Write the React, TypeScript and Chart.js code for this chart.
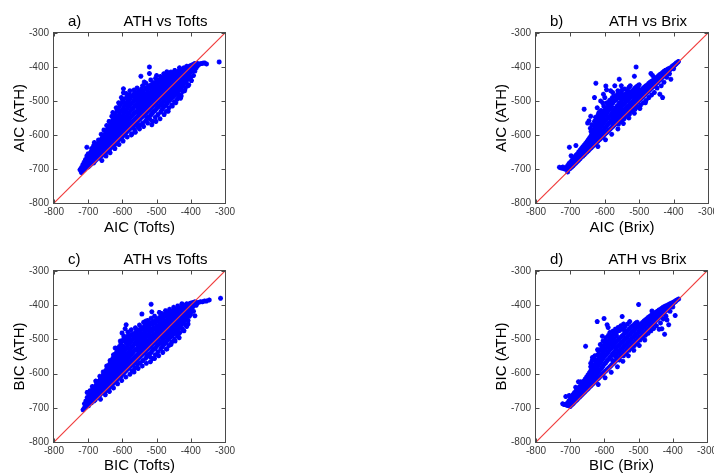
import React, { useEffect, useRef } from "react";
import { Chart, registerables } from "chart.js";
Chart.register(...registerables);

const axisMin = -800;
const axisMax = -300;
const axisStep = 100;
const diagonal = [[-800, -800], [-300, -300]];

const panelTags = ["a)", "b)", "c)", "d)"];
const panelTitles = ["ATH vs Tofts", "ATH vs Brix", "ATH vs Tofts", "ATH vs Brix"];
const xLabels = ["AIC (Tofts)", "AIC (Brix)", "BIC (Tofts)", "BIC (Brix)"];
const yLabels = ["AIC (ATH)", "AIC (ATH)", "BIC (ATH)", "BIC (ATH)"];

// Each row: [x, y1, y2, ...] = points read at that x value.
// a) AIC: Tofts (x) vs ATH (y)
const panelA = [
  [-724,-702],[-720,-710,-696],[-716,-700,-688,-706],[-712,-694,-680,-703],[-708,-698,-672,-688],
  [-704,-690,-662,-678,-636],[-700,-694,-670,-682,-655],[-696,-684,-660,-672,-690],[-692,-676,-650,-664,-686],
  [-688,-680,-645,-660,-670],[-684,-672,-631,-650,-662,-682],[-680,-668,-640,-655,-676],[-676,-660,-638,-650,-672,-628],
  [-672,-664,-626,-645,-655],[-668,-658,-620,-640,-668,-632],[-664,-652,-615,-630,-645,-662],[-660,-660,-610,-625,-640,-650],
  [-656,-645,-605,-620,-632,-655],[-652,-650,-598,-612,-628,-640],[-648,-640,-590,-606,-620,-632,-650],
  [-644,-636,-585,-600,-615,-628,-646],[-640,-645,-578,-595,-608,-622,-634],[-636,-630,-572,-588,-602,-615,-640],
  [-632,-625,-565,-580,-596,-610,-636],[-628,-620,-534,-556,-575,-590,-605,-632],[-624,-630,-548,-566,-584,-598,-612],
  [-620,-615,-540,-560,-578,-592,-605,-625],[-616,-610,-530,-550,-570,-586,-598,-620],[-612,-605,-522,-545,-562,-580,-594,-615],
  [-608,-600,-515,-538,-556,-575,-590,-612],[-604,-610,-508,-530,-550,-568,-584,-596],[-600,-592,-500,-525,-545,-562,-578,-605],
  [-597,-476,-464],[-596,-588,-495,-518,-538,-556,-572,-600],[-592,-584,-505,-512,-532,-550,-568,-596],
  [-588,-580,-490,-508,-526,-546,-562,-592],[-584,-575,-485,-502,-520,-540,-558,-588],[-580,-570,-482,-495,-515,-535,-552,-584],
  [-576,-566,-490,-510,-528,-548,-580],[-572,-562,-486,-505,-524,-544,-578,-596],[-568,-558,-480,-500,-520,-538,-574],
  [-564,-555,-488,-496,-515,-535,-570,-585],[-560,-550,-475,-492,-510,-530,-565],[-556,-546,-482,-498,-518,-532,-560,-575],
  [-552,-542,-470,-488,-505,-525,-556],[-548,-538,-476,-494,-512,-528,-552,-570],[-546,-427],
  [-544,-535,-465,-485,-502,-520,-548],[-540,-530,-470,-490,-508,-522,-545,-565],[-536,-526,-444,-478,-496,-512,-540],
  [-532,-522,-462,-482,-500,-516,-536,-558],[-528,-518,-468,-488,-505,-532,-550],[-524,-515,-456,-476,-494,-510,-528,-546],
  [-521,-400,-419],[-520,-510,-462,-482,-500,-525,-552],[-516,-506,-452,-472,-490,-520,-540],
  [-512,-502,-458,-478,-494,-516,-535,-560],[-509,-446],[-508,-498,-448,-468,-486,-512,-530],
  [-504,-494,-455,-474,-490,-508,-528,-548],[-500,-490,-425,-442,-462,-480,-505,-522],[-496,-486,-450,-470,-500,-518,-540],
  [-492,-482,-438,-458,-476,-496,-514],[-488,-478,-445,-464,-492,-510,-532],[-484,-474,-432,-452,-470,-488,-506,-525],
  [-480,-470,-440,-458,-484,-500,-518],[-476,-466,-428,-448,-480,-496,-515],[-472,-462,-435,-452,-476,-492,-510,-530],
  [-468,-458,-425,-442,-472,-488,-505],[-464,-454,-432,-448,-468,-484,-500,-520],[-460,-450,-420,-438,-464,-480,-496],
  [-456,-446,-428,-444,-460,-476,-492,-512],[-452,-442,-418,-434,-456,-472,-488],[-448,-438,-425,-452,-468,-484,-502],
  [-444,-434,-415,-430,-448,-464,-480],[-440,-430,-420,-444,-460,-476,-495],[-436,-426,-412,-440,-456,-470,-488],
  [-432,-422,-416,-436,-450,-466,-482],[-428,-418,-408,-432,-446,-460,-485],[-424,-414,-425,-440,-455,-472],
  [-420,-410,-402,-420,-436,-450],[-416,-406,-415,-430,-445,-462],[-412,-404,-398,-425,-440],
  [-408,-400,-412,-428,-455],[-404,-398,-408,-420,-435],[-400,-396,-404,-415,-430],[-396,-394,-400,-410],
  [-392,-392,-405,-425],[-388,-390,-398,-412],[-384,-392,-402],[-380,-390,-396],
  [-375,-392],[-370,-390],[-365,-389],[-360,-388],[-354,-391],[-317,-385],
  // ragged upper edge
  [-690,-640],[-682,-622],[-670,-615],[-662,-598],[-654,-585],[-646,-572],[-639,-560],[-631,-545],[-618,-520],
  [-611,-505],[-603,-490],[-589,-478],[-578,-470],[-566,-468],[-557,-462],[-541,-455],[-531,-448],[-517,-438],
  [-503,-433],[-489,-428],[-479,-420],[-470,-414],[-458,-415],[-447,-410],[-433,-402],
  // ragged lower edge
  [-660,-675],[-648,-662],[-636,-652],[-622,-640],[-610,-628],[-598,-618],[-586,-606],[-574,-600],[-562,-592],
  [-550,-582],[-538,-575],[-526,-565],[-514,-570],[-502,-560],[-490,-552],[-478,-540],[-466,-530],[-454,-515],
  [-444,-505],[-430,-492],[-418,-470],[-406,-452],[-398,-440],
];

// b) AIC: Brix (x) vs ATH (y)
const panelB = [
  [-732,-695],[-727,-697],[-722,-698,-694],[-717,-700],[-713,-700,-696],[-708,-709,-702,-690],[-704,-700,-692,-684],
  [-703,-636],[-700,-698,-690,-680],[-698,-661],[-696,-694,-684,-675],[-692,-690,-680,-670],[-688,-686,-676,-664],
  [-684,-682,-631,-670,-660],[-680,-678,-668,-656],[-679,-665],[-676,-674,-662,-650],[-672,-670,-658,-645],
  [-668,-665,-652,-640],[-664,-662,-648,-635],[-660,-658,-524,-642,-630],[-656,-654,-638,-625,-646],
  [-652,-650,-632,-620,-642],[-648,-646,-628,-614,-636],[-646,-558],[-644,-642,-622,-608,-632],
  [-640,-638,-618,-602,-628,-590],[-636,-634,-612,-596,-624],[-632,-630,-606,-590,-620,-573],[-630,-490],
  [-628,-626,-600,-584,-614],[-626,-448],[-624,-622,-596,-578,-610],[-620,-618,-590,-572,-606,-556],[-617,-534],
  [-616,-614,-584,-566,-600],[-612,-610,-578,-560,-596,-545],[-608,-606,-572,-554,-590],[-606,-505],
  [-604,-602,-566,-548,-586,-530],[-600,-598,-560,-542,-580,-490],[-597,-456],[-596,-594,-556,-538,-576,-520],
  [-595,-467],[-592,-590,-550,-532,-570],[-588,-586,-546,-526,-566,-510],[-587,-519],[-584,-582,-542,-522,-560],
  [-580,-578,-536,-516,-556],[-577,-475],[-576,-574,-530,-548,-565,-505],[-572,-570,-526,-544,-558],
  [-568,-566,-520,-538,-552,-498],[-564,-562,-515,-532,-548],[-563,-480],[-560,-558,-510,-528,-544,-568],
  [-558,-436],[-556,-554,-505,-522,-540,-490],[-552,-550,-500,-518,-536,-560],[-548,-546,-480,-512,-530],
  [-544,-542,-495,-508,-526,-552],[-543,-482],[-540,-538,-490,-504,-522],[-536,-534,-486,-500,-518,-545],
  [-532,-530,-482,-496,-514],[-528,-526,-478,-492,-510,-538],[-524,-522,-475,-488,-506],[-520,-518,-470,-485,-502,-530],
  [-516,-514,-466,-482,-498],[-514,-427],[-512,-510,-462,-478,-494,-524],[-509,-400],[-508,-506,-458,-474,-490],
  [-504,-502,-455,-470,-486,-518],[-500,-498,-452,-466,-482],[-496,-494,-470,-480,-512],[-492,-490,-466,-476],
  [-488,-486,-462,-472,-505],[-484,-482,-458,-468],[-480,-478,-455,-465,-498],[-476,-474,-452,-462],
  [-472,-470,-448,-458,-490],[-468,-466,-445,-455],[-466,-419],[-464,-462,-442,-452,-482],[-461,-425],
  [-460,-458,-440,-448],[-456,-454,-436,-445,-475],[-452,-450,-432,-441],[-448,-446,-430,-438,-462],
  [-444,-442,-426,-434],[-440,-438,-422,-430,-480],[-436,-434,-420,-426,-455],[-432,-430,-416,-422,-490],
  [-428,-426,-413,-418,-445],[-424,-422,-410,-415],[-420,-418,-408,-412,-430],[-416,-414,-406,-410],
  [-412,-410,-404,-420],[-408,-406,-436,-402],[-404,-402,-398],[-400,-398,-395,-405],[-396,-394,-392],
  [-392,-390,-388],[-388,-386],[-386,-384],
  // scattered fan above the band
  [-650,-565],[-642,-580],[-641,-545],[-638,-570],[-634,-585],[-630,-560],[-627,-548],[-623,-565],[-622,-520],
  [-619,-540],[-615,-552],[-612,-500],[-611,-528],[-607,-538],[-604,-480],[-603,-515],[-599,-525],[-594,-505],
  [-590,-515],[-586,-498],[-583,-470],[-582,-505],[-578,-490],[-574,-500],[-571,-455],[-570,-485],[-566,-495],
  [-562,-470],[-558,-488],[-554,-478],[-552,-455],[-550,-468],[-546,-490],[-542,-465],[-538,-478],[-534,-470],
  [-530,-460],[-526,-455],
  // below the band
  [-620,-634],[-598,-614],[-580,-598],[-562,-582],[-546,-566],[-530,-550],[-514,-536],[-498,-522],[-482,-505],
];

// c) BIC: Tofts (x) vs ATH (y)
const panelC = [
  [-715,-706],[-711,-688,-700],[-707,-698,-680,-692],[-703,-655,-690,-670,-682],[-699,-694,-668,-680],
  [-695,-684,-660,-672,-650],[-691,-676,-656,-666,-686],[-687,-680,-645,-660,-670],[-683,-672,-640,-652,-662,-680],
  [-679,-668,-638,-655,-676],[-676,-631,-660,-648,-670],[-672,-664,-624,-640,-652],[-668,-658,-622,-636,-648,-666],
  [-664,-652,-615,-630,-645,-660],[-660,-656,-610,-622,-638,-648],[-656,-645,-604,-618,-630,-652],
  [-652,-648,-596,-610,-624,-638],[-648,-640,-590,-604,-618,-630,-650],[-644,-635,-582,-598,-612,-626,-645],
  [-640,-642,-576,-592,-606,-620,-632],[-636,-628,-570,-586,-600,-614,-638],[-632,-622,-562,-578,-594,-608,-634],
  [-628,-618,-555,-572,-588,-602,-630],[-624,-626,-548,-564,-580,-596,-610],[-621,-525],
  [-620,-614,-542,-558,-575,-590,-605,-622],[-616,-608,-535,-552,-570,-584,-598,-618],[-612,-604,-528,-546,-562,-578,-592,-612],
  [-608,-598,-520,-540,-556,-572,-588,-608],[-604,-608,-512,-532,-550,-566,-582,-595],[-601,-481],
  [-600,-590,-505,-526,-544,-560,-576,-602],[-596,-586,-498,-520,-538,-554,-570,-598],[-592,-469,-582,-504,-530,-548,-566,-594],
  [-589,-457],[-588,-578,-495,-512,-526,-544,-560,-590],[-584,-574,-490,-506,-522,-540,-556,-586],
  [-580,-568,-496,-514,-534,-550,-582],[-576,-564,-488,-508,-528,-546,-578],[-572,-560,-484,-502,-522,-542,-575,-592],
  [-568,-556,-490,-498,-518,-536,-572],[-564,-552,-482,-494,-512,-532,-566,-584],[-560,-548,-478,-490,-508,-528,-562],
  [-556,-544,-485,-500,-516,-530,-558,-574],[-552,-540,-472,-488,-504,-522,-554],[-548,-536,-476,-492,-510,-526,-550,-568],
  [-544,-532,-466,-484,-500,-518,-546],[-543,-426],[-540,-528,-470,-488,-506,-520,-542,-562],
  [-536,-524,-462,-480,-496,-512,-538],[-532,-520,-458,-476,-492,-508,-534,-555],[-531,-446],
  [-528,-516,-465,-484,-502,-530,-548],[-524,-512,-455,-472,-490,-506,-526,-544],[-520,-508,-460,-478,-496,-522,-550],
  [-516,-397,-438,-504,-450,-470,-488,-518,-538],[-514,-419],[-512,-500,-455,-474,-492,-514,-532,-556],
  [-508,-496,-446,-466,-484,-510,-528],[-504,-492,-452,-470,-488,-506,-526,-545],[-500,-488,-440,-460,-478,-502,-520],
  [-496,-484,-446,-466,-498,-516,-536],[-492,-421,-480,-436,-456,-474,-494,-512],[-488,-476,-442,-462,-490,-508,-528],
  [-484,-472,-430,-450,-468,-486,-504,-522],[-480,-468,-436,-456,-482,-498,-516],[-476,-464,-426,-446,-478,-494,-512],
  [-472,-460,-432,-450,-474,-490,-508,-528],[-468,-456,-424,-440,-470,-486,-502],[-464,-452,-430,-446,-466,-482,-498,-518],
  [-460,-448,-418,-436,-462,-478,-494],[-456,-444,-426,-442,-458,-474,-490,-508],[-452,-440,-416,-432,-454,-470,-486],
  [-448,-436,-422,-450,-466,-482,-500],[-444,-432,-414,-428,-446,-462,-478],[-440,-428,-418,-442,-458,-474,-490],
  [-436,-424,-410,-438,-454,-468,-485],[-432,-420,-414,-434,-448,-464,-480],[-428,-416,-406,-430,-444,-458],
  [-424,-412,-422,-438,-452,-470],[-420,-408,-400,-418,-434,-448],[-416,-404,-413,-428,-442,-458],
  [-412,-402,-396,-422,-436,-462],[-408,-398,-410,-425,-445],[-404,-396,-405,-418,-432],[-400,-394,-402,-412,-426],
  [-396,-393,-398,-408],[-392,-392,-402,-418],[-388,-390,-397,-431],[-384,-392,-400],
  [-378,-392],[-372,-390],[-366,-390],[-360,-388],[-354,-388],[-346,-385],[-313,-380],
  // ragged upper edge
  [-688,-638],[-678,-622],[-666,-608],[-656,-595],[-646,-578],[-636,-562],[-626,-545],[-614,-525],[-606,-505],
  [-596,-490],[-584,-478],[-574,-472],[-562,-466],[-550,-458],[-538,-450],[-526,-445],[-506,-432],[-486,-424],
  [-474,-416],[-462,-412],[-450,-406],[-438,-402],[-426,-396],
  // ragged lower edge
  [-664,-675],[-650,-662],[-638,-652],[-626,-642],[-614,-630],[-602,-620],[-590,-610],[-578,-602],[-566,-595],
  [-554,-585],[-542,-578],[-530,-570],[-518,-565],[-506,-556],[-494,-548],[-482,-538],[-470,-528],[-458,-515],
  [-446,-505],[-434,-495],[-420,-475],[-408,-455],
];

// d) BIC: Brix (x) vs ATH (y)
const panelD = [
  [-722,-688],[-718,-690],[-713,-691,-667],[-708,-693,-686],[-704,-690,-680],[-703,-664],[-700,-696,-684,-674],
  [-696,-692,-680,-668],[-692,-688,-676,-662],[-688,-684,-670,-656],[-684,-680,-640,-664,-652],[-680,-676,-660,-648],
  [-676,-672,-624,-656,-642],[-672,-668,-652,-638],[-669,-624],[-668,-664,-646,-632],[-664,-660,-642,-628],
  [-660,-656,-636,-622,-648],[-656,-652,-630,-616,-642],[-655,-520],[-652,-648,-626,-610,-638],
  [-648,-644,-620,-604,-634],[-644,-640,-614,-598,-628],[-640,-636,-608,-592,-624,-580],[-636,-632,-602,-586,-620],
  [-635,-553],[-632,-628,-596,-580,-614],[-630,-582],[-628,-624,-590,-574,-608,-560],[-624,-620,-585,-568,-604],
  [-621,-448],[-620,-616,-580,-562,-598,-545],[-616,-612,-574,-556,-594],[-612,-608,-568,-550,-588,-530],
  [-608,-604,-562,-544,-584],[-606,-491],[-604,-600,-556,-538,-578,-520],[-601,-439],[-600,-596,-550,-532,-572],
  [-597,-505],[-596,-592,-546,-528,-568,-512],[-592,-588,-540,-522,-562,-457],[-589,-465],[-588,-584,-536,-518,-558],
  [-584,-580,-530,-512,-552,-498],[-580,-576,-526,-508,-548],[-577,-492],[-576,-572,-520,-504,-542,-562],
  [-572,-568,-515,-498,-538],[-568,-564,-510,-528,-550],[-567,-481],[-564,-560,-506,-524,-542,-490],
  [-560,-556,-502,-520,-538],[-556,-552,-498,-516,-534,-560],[-552,-548,-494,-512,-530],[-548,-544,-433,-490,-508,-526],
  [-544,-540,-486,-504,-522,-548],[-543,-471],[-540,-536,-482,-500,-518],[-536,-532,-478,-496,-514,-540],
  [-532,-528,-474,-492,-510],[-528,-524,-470,-488,-506,-532],[-524,-520,-466,-484,-502],[-520,-516,-462,-480,-498,-525],
  [-516,-512,-460,-476,-494],[-512,-508,-456,-472,-490,-518],[-508,-504,-452,-468,-486],[-504,-500,-450,-464,-482,-510],
  [-500,-496,-398,-460,-478],[-496,-492,-458,-474,-502],[-492,-488,-454,-470],[-488,-484,-450,-466,-495],
  [-484,-480,-446,-462],[-480,-476,-443,-458,-488],[-476,-472,-440,-455],[-472,-468,-436,-451,-482],
  [-468,-464,-433,-448],[-464,-460,-430,-444,-475],[-461,-417],[-460,-456,-428,-440],[-456,-452,-425,-436,-468],
  [-452,-448,-422,-433],[-448,-444,-420,-430,-460],[-444,-440,-417,-427],[-440,-436,-414,-424,-470],
  [-436,-432,-412,-420,-452],[-432,-428,-409,-416,-469],[-428,-424,-406,-413,-440],[-424,-420,-404,-410,-485],
  [-420,-416,-402,-408,-432],[-417,-443],[-416,-412,-400,-406],[-412,-408,-398,-457],[-408,-404,-396,-418],
  [-404,-400,-394],[-400,-396,-392,-405],[-396,-392,-390],[-393,-430],[-392,-389,-387],[-388,-385],[-383,-382],
  // scattered fan above the band
  [-640,-570],[-636,-562],[-632,-575],[-628,-548],[-624,-560],[-620,-530],[-616,-542],[-612,-515],[-608,-528],
  [-604,-505],[-600,-515],[-596,-495],[-592,-505],[-588,-488],[-584,-480],[-580,-490],[-576,-476],[-572,-485],
  [-568,-470],[-564,-478],[-560,-465],[-556,-474],[-552,-460],[-548,-470],[-544,-455],[-540,-462],[-532,-455],
  [-526,-448],
  // below the band
  [-618,-632],[-598,-612],[-580,-596],[-562,-580],[-546,-564],[-530,-548],[-514,-532],[-498,-518],[-482,-502],
];

const panelData = [panelA, panelB, panelC, panelD];

const FONT = '"Liberation Sans", Arial, Helvetica, sans-serif';

const layouts = [
  { left: 0, top: 0, width: 240, height: 237, padTop: 33, padRight: 15, axisW: 54, axisH: 34 },
  { left: 482, top: 0, width: 241, height: 237, padTop: 33, padRight: 15, axisW: 54, axisH: 34 },
  { left: 0, top: 237, width: 240, height: 238, padTop: 34, padRight: 15, axisW: 54, axisH: 33 },
  { left: 482, top: 237, width: 240, height: 238, padTop: 34, padRight: 15, axisW: 54, axisH: 33 },
];

function Panel({ idx }: { idx: number }) {
  const ref = useRef<HTMLCanvasElement | null>(null);
  const cfg = layouts[idx];
  useEffect(() => {
    const canvas = ref.current;
    if (!canvas) return;
    const points = panelData[idx].flatMap((row) => row.slice(1).map((y) => ({ x: row[0], y })));
    const framePlugin = {
      id: "frame" + idx,
      afterDraw(chart: any) {
        const { ctx, chartArea: a, scales } = chart;
        ctx.save();
        ctx.strokeStyle = "#4a4a4a";
        ctx.lineWidth = 1;
        const L = Math.round(a.left) - 0.5;
        const R = Math.round(a.right) + 0.5;
        const T = Math.round(a.top) - 0.5;
        const B = Math.round(a.bottom) + 0.5;
        ctx.strokeRect(L, T, R - L, B - T);
        ctx.beginPath();
        const tl = 4;
        scales.x.ticks.forEach((t: any) => {
          const px = Math.round(scales.x.getPixelForValue(t.value)) + 0.5;
          ctx.moveTo(px, B);
          ctx.lineTo(px, B - tl);
          ctx.moveTo(px, T);
          ctx.lineTo(px, T + tl);
        });
        scales.y.ticks.forEach((t: any) => {
          const py = Math.round(scales.y.getPixelForValue(t.value)) + 0.5;
          ctx.moveTo(L, py);
          ctx.lineTo(L + tl, py);
          ctx.moveTo(R, py);
          ctx.lineTo(R - tl, py);
        });
        ctx.stroke();
        ctx.fillStyle = "#000";
        ctx.font = "15px " + FONT;
        ctx.textBaseline = "alphabetic";
        ctx.textAlign = "left";
        ctx.fillText(panelTags[idx], a.left + 14, a.top - 7);
        ctx.textAlign = "center";
        ctx.fillText(panelTitles[idx], (a.left + a.right) / 2 + 26, a.top - 7);
        ctx.restore();
      },
    };
    const chart = new Chart(canvas, {
      type: "scatter",
      data: {
        datasets: [
          {
            data: diagonal.map(([x, y]) => ({ x, y })),
            showLine: true,
            borderColor: "#f03c3c",
            backgroundColor: "#f03c3c",
            borderWidth: 1.2,
            pointRadius: 0,
          } as any,
          {
            data: points,
            pointStyle: "star",
            pointRadius: 2.5,
            pointBorderWidth: 1.5,
            borderColor: "#0000ff",
            backgroundColor: "#0000ff",
            pointBorderColor: "#0000ff",
            pointBackgroundColor: "#0000ff",
            showLine: false,
          } as any,
        ],
      },
      options: {
        animation: false,
        responsive: false,
        devicePixelRatio: 1,
        events: [],
        layout: { padding: { top: cfg.padTop, right: cfg.padRight, left: 0, bottom: 0 } },
        plugins: { legend: { display: false }, tooltip: { enabled: false }, title: { display: false } },
        scales: {
          x: {
            type: "linear",
            min: axisMin,
            max: axisMax,
            grid: { display: false, drawTicks: false },
            border: { display: false },
            ticks: {
              stepSize: axisStep,
              font: { size: 10, family: FONT },
              color: "#3a3a3a",
              padding: 3,
              maxRotation: 0,
              autoSkip: false,
            },
            title: {
              display: true,
              text: xLabels[idx],
              font: { size: 15, family: FONT },
              color: "#000",
              padding: { top: 0, bottom: 0 },
            },
            afterFit: (s: any) => {
              s.height = cfg.axisH;
            },
          },
          y: {
            type: "linear",
            min: axisMin,
            max: axisMax,
            grid: { display: false, drawTicks: false },
            border: { display: false },
            ticks: {
              stepSize: axisStep,
              font: { size: 10, family: FONT },
              color: "#3a3a3a",
              padding: 5,
              autoSkip: false,
            },
            title: {
              display: true,
              text: yLabels[idx],
              font: { size: 15, family: FONT },
              color: "#000",
              padding: { top: 11, bottom: 0 },
            },
            afterFit: (s: any) => {
              s.width = cfg.axisW;
            },
          },
        },
      } as any,
      plugins: [framePlugin],
    });
    return () => chart.destroy();
  }, [idx]);
  return (
    <canvas
      ref={ref}
      width={cfg.width}
      height={cfg.height}
      style={{ position: "absolute", left: cfg.left, top: cfg.top, width: cfg.width, height: cfg.height }}
    />
  );
}

export default function App() {
  return (
    <div
      style={{
        position: "absolute",
        left: 0,
        top: 0,
        width: 714,
        height: 475,
        overflow: "hidden",
        background: "#fff",
      }}
    >
      {[0, 1, 2, 3].map((i) => (
        <Panel key={i} idx={i} />
      ))}
    </div>
  );
}
